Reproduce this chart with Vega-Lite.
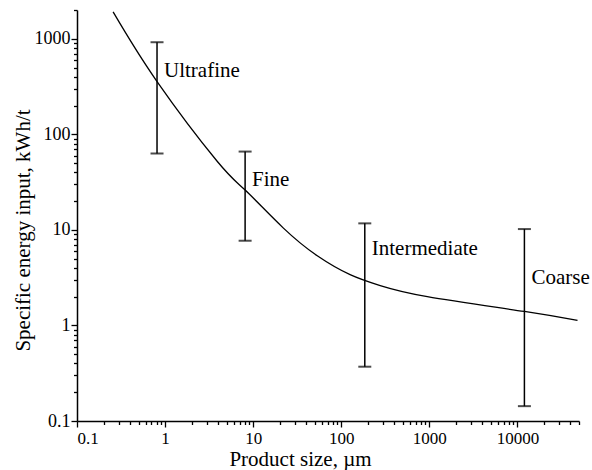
{
  "$schema": "https://vega.github.io/schema/vega-lite/v6.json",
  "width": 502,
  "height": 411,
  "autosize": {"type": "none"},
  "padding": {"left": 77, "top": 10, "right": 13, "bottom": 49},
  "background": "white",
  "config": {
    "font": "Liberation Serif",
    "view": {"stroke": null},
    "axis": {
      "grid": false,
      "domainColor": "black",
      "domainWidth": 1.5,
      "tickColor": "black",
      "tickWidth": 1.3,
      "labelColor": "black",
      "titleColor": "black",
      "labelFont": "Liberation Serif",
      "titleFont": "Liberation Serif",
      "titleFontWeight": "normal",
      "labelFontSize": 17,
      "titleFontSize": 21
    }
  },
  "datasets": {
    "curve": [
      {"size": 0.257, "energy": 1910},
      {"size": 0.811, "energy": 356},
      {"size": 3.9, "energy": 52.3},
      {"size": 8.11, "energy": 26.1},
      {"size": 21.9, "energy": 10.5},
      {"size": 53.4, "energy": 5.36},
      {"size": 126, "energy": 3.4},
      {"size": 277, "energy": 2.61},
      {"size": 949, "energy": 2.0},
      {"size": 12000, "energy": 1.4},
      {"size": 48100, "energy": 1.127}
    ],
    "bars": [
      {"label": "Ultrafine", "size": 0.81, "lo": 63, "hi": 920, "ly": 460},
      {"label": "Fine", "size": 8.1, "lo": 7.7, "hi": 66, "ly": 33},
      {"label": "Intermediate", "size": 185, "lo": 0.37, "hi": 11.7, "ly": 6.3},
      {"label": "Coarse", "size": 12000, "lo": 0.143, "hi": 10.2, "ly": 3.16}
    ]
  },
  "layer": [
    {
      "data": {"name": "curve"},
      "mark": {"type": "line", "interpolate": "natural", "color": "black", "strokeWidth": 1.3},
      "encoding": {
        "x": {
          "field": "size", "type": "quantitative",
          "scale": {"type": "log", "domain": [0.1, 50000], "nice": false},
          "axis": {
            "orient": "bottom",
            "values": [0.1, 1, 10, 100, 1000, 10000],
            "format": "~r",
            "tickSize": 6,
            "labelPadding": 3,
            "title": "Product size, µm",
            "titleX": 223,
            "titleY": 27,
            "titleBaseline": "top"
          }
        },
        "y": {
          "field": "energy", "type": "quantitative",
          "scale": {"type": "log", "domain": [0.1, 2000], "nice": false},
          "axis": {
            "orient": "left",
            "values": [0.1, 1, 10, 100, 1000],
            "format": "~r",
            "labelFontSize": 18,
            "tickSize": 6,
            "labelPadding": 1,
            "title": "Specific energy input, kWh/t",
            "titleX": -44,
            "titleY": 220,
            "titleBaseline": "bottom",
            "titleAngle": 270
          }
        }
      }
    },
    {
      "data": {"name": "bars"},
      "mark": {"type": "rule", "color": "black", "strokeWidth": 1.5},
      "encoding": {
        "x": {
          "field": "size", "type": "quantitative",
          "axis": {
            "orient": "bottom",
            "values": [0.2, 0.3, 0.4, 0.5, 0.6, 0.7, 0.8, 0.9, 2, 3, 4, 5, 6, 7, 8, 9, 20, 30, 40, 50, 60, 70, 80, 90, 200, 300, 400, 500, 600, 700, 800, 900, 2000, 3000, 4000, 5000, 6000, 7000, 8000, 9000, 20000, 30000, 40000, 50000],
            "labels": false,
            "domain": false,
            "tickSize": 3.5,
            "title": null
          }
        },
        "y": {
          "field": "lo", "type": "quantitative",
          "axis": {
            "orient": "left",
            "values": [0.2, 0.3, 0.4, 0.5, 0.6, 0.7, 0.8, 0.9, 2, 3, 4, 5, 6, 7, 8, 9, 20, 30, 40, 50, 60, 70, 80, 90, 200, 300, 400, 500, 600, 700, 800, 900, 2000],
            "labels": false,
            "domain": false,
            "tickSize": 3.5,
            "title": null
          }
        },
        "y2": {"field": "hi"}
      }
    },
    {
      "data": {"name": "bars"},
      "mark": {"type": "tick", "orient": "horizontal", "color": "black", "size": 13, "thickness": 2},
      "encoding": {
        "x": {"field": "size", "type": "quantitative", "axis": null},
        "y": {"field": "lo", "type": "quantitative", "axis": null}
      }
    },
    {
      "data": {"name": "bars"},
      "mark": {"type": "tick", "orient": "horizontal", "color": "black", "size": 13, "thickness": 2},
      "encoding": {
        "x": {"field": "size", "type": "quantitative", "axis": null},
        "y": {"field": "hi", "type": "quantitative", "axis": null}
      }
    },
    {
      "data": {"name": "bars"},
      "mark": {"type": "text", "align": "left", "baseline": "middle", "dx": 7, "font": "Liberation Serif", "fontSize": 21, "color": "black"},
      "encoding": {
        "x": {"field": "size", "type": "quantitative", "axis": null},
        "y": {"field": "ly", "type": "quantitative", "axis": null},
        "text": {"field": "label"}
      }
    }
  ],
  "resolve": {"axis": {"x": "independent", "y": "independent"}}
}
